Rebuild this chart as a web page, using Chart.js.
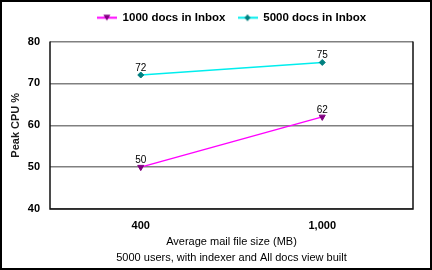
<!DOCTYPE html>
<html>
<head>
<meta charset="utf-8">
<script src="https://cdn.jsdelivr.net/npm/chart.js@4"></script>
<style>
  html, body { margin: 0; padding: 0; background: #fff; }
  #wrap { width: 432px; height: 270px; position: relative; }
</style>
</head>
<body>
<div id="wrap"><canvas id="chart" width="432" height="270"></canvas></div>
<script>
// Peak CPU % by average mail file size
const sizes = ['400', '1,000'];
const docs1000 = [50, 62];
const docs5000 = [72, 75];
const yTicks = [40, 50, 60, 70, 80];

// legend swatch: short line with the marker in the middle
function swatch(color, fill, style) {
  const c = document.createElement('canvas');
  c.width = 20; c.height = 9;
  const g = c.getContext('2d');
  g.strokeStyle = color; g.lineWidth = 2;
  g.beginPath(); g.moveTo(0, 4.5); g.lineTo(20, 4.5); g.stroke();
  g.fillStyle = fill; g.strokeStyle = fill; g.lineWidth = 1;
  g.beginPath();
  if (style === 'tri') {
    g.moveTo(6.5, 1.5); g.lineTo(13.5, 1.5); g.lineTo(10, 7.5);
  } else {
    g.moveTo(10, 1); g.lineTo(13, 4.5); g.lineTo(10, 8); g.lineTo(7, 4.5);
  }
  g.closePath(); g.fill();
  return c;
}

const frame = {
  id: 'frame',
  beforeInit(chart) {
    // extra room between legend and plot
    const fit = chart.legend.fit;
    chart.legend.fit = function () { fit.call(this); this.height += 8; };
  },
  afterDatasetsDraw(chart) {
    const { ctx, chartArea: a } = chart;
    ctx.save();
    ctx.strokeStyle = '#111';
    ctx.lineWidth = 1.5;
    ctx.beginPath();
    ctx.moveTo(a.left, a.top); ctx.lineTo(a.left, a.bottom);
    ctx.lineTo(a.right, a.bottom); ctx.lineTo(a.right, a.top);
    ctx.stroke();
    // data labels
    ctx.fillStyle = '#000';
    ctx.font = '10px "Liberation Sans", Arial, sans-serif';
    ctx.textAlign = 'center';
    ctx.textBaseline = 'bottom';
    chart.data.datasets.forEach((ds, i) => {
      chart.getDatasetMeta(i).data.forEach((pt, j) => {
        ctx.fillText(ds.data[j], pt.x, pt.y - 2);
      });
    });
    ctx.restore();
  },
  afterDraw(chart) {
    const ctx = chart.ctx;
    ctx.save();
    ctx.strokeStyle = '#000';
    ctx.lineWidth = 2;
    ctx.strokeRect(1, 1, 430, 268);
    ctx.restore();
  }
};

new Chart(document.getElementById('chart'), {
  type: 'line',
  data: {
    labels: sizes,
    datasets: [
      { label: '1000 docs in Inbox', data: docs1000, borderColor: '#ff00ff', borderWidth: 1.5,
        pointStyle: 'triangle', rotation: 180, pointRadius: 3.5, pointBackgroundColor: '#800080',
        pointBorderColor: '#800080', pointBorderWidth: 1 },
      { label: '5000 docs in Inbox', data: docs5000, borderColor: '#00eeee', borderWidth: 1.5,
        pointStyle: 'rectRot', pointRadius: 3, pointBackgroundColor: '#008080',
        pointBorderColor: '#008080', pointBorderWidth: 1 }
    ]
  },
  options: {
    responsive: false,
    animation: false,
    layout: { padding: { left: 0, right: 19, top: 0, bottom: 0 } },
    plugins: {
      tooltip: { enabled: false },
      legend: {
        position: 'top',
        fullSize: false,
        labels: {
          usePointStyle: true,
          pointStyleWidth: 20,
          color: '#000',
          padding: 12,
          font: { family: '"Liberation Sans", Arial, sans-serif', size: 11.5, weight: 'bold' },
          generateLabels: (chart) => chart.data.datasets.map((ds, i) => ({
            text: ds.label,
            pointStyle: swatch(ds.borderColor, ds.pointBackgroundColor, i === 0 ? 'tri' : 'dia'),
            datasetIndex: i, lineWidth: 0, fillStyle: '#fff', strokeStyle: '#fff'
          }))
        }
      }
    },
    scales: {
      x: {
        offset: true,
        afterFit: (s) => { s.height = 61; },
        grid: { display: false, drawTicks: false },
        border: { display: false },
        ticks: { color: '#000', padding: 10, font: { family: '"Liberation Sans", Arial, sans-serif', size: 11, weight: 'bold' } },
        title: {
          display: true,
          text: ['Average mail file size (MB)', '5000 users, with indexer and All docs view built'],
          color: '#000',
          padding: { top: 2, bottom: 4 },
          font: { family: '"Liberation Sans", Arial, sans-serif', size: 11, lineHeight: '16px' }
        }
      },
      y: {
        min: 40, max: 80,
        afterBuildTicks: (s) => { s.ticks = yTicks.map(v => ({ value: v })); },
        afterFit: (s) => { s.width = 50; },
        grid: { color: '#808080', lineWidth: 1.5, drawTicks: false },
        border: { display: false },
        ticks: { color: '#000', padding: 10, font: { family: '"Liberation Sans", Arial, sans-serif', size: 11, weight: 'bold' } },
        title: {
          display: true,
          text: 'Peak CPU %',
          color: '#1a1a1a',
          padding: { top: 9, bottom: 0 },
          font: { family: '"Liberation Sans", Arial, sans-serif', size: 11, weight: 'bold' }
        }
      }
    }
  },
  plugins: [frame]
});
</script>
</body>
</html>
